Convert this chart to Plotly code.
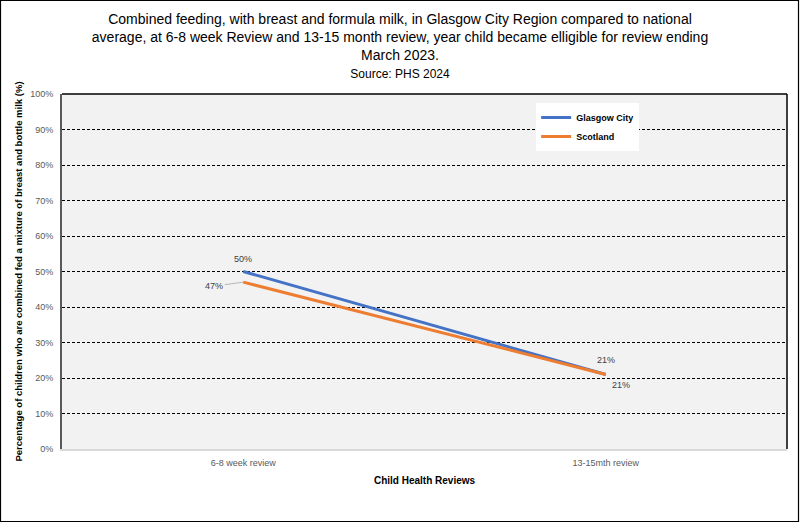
import plotly.graph_objects as go

categories = ["6-8 week review", "13-15mth review"]
glasgow = [50, 21]
scotland = [47, 21]
y_ticks = [0, 10, 20, 30, 40, 50, 60, 70, 80, 90, 100]
y_tick_labels = [f"{v}%" for v in y_ticks]

FONT = "Liberation Sans"
fig = go.Figure()
fig.add_trace(go.Scatter(x=categories, y=glasgow, mode="lines", name="Glasgow City",
                         line=dict(color="#4472C4", width=3)))
fig.add_trace(go.Scatter(x=categories, y=scotland, mode="lines", name="Scotland",
                         line=dict(color="#ED7D31", width=3)))

lab = dict(font=dict(family=FONT, size=9, color="#404040"), showarrow=False)
# Glasgow labels (above)
fig.add_annotation(x=categories[0], y=glasgow[0], text=f"{glasgow[0]}%", yshift=13, **lab)
fig.add_annotation(x=categories[1], y=glasgow[1], text=f"{glasgow[1]}%", yshift=14, xshift=0, **lab)
# Scotland labels
fig.add_annotation(x=categories[0], y=scotland[0], text=f"{scotland[0]}%", showarrow=True,
                   arrowhead=0, arrowwidth=0.8, arrowcolor="#a6a6a6", ax=-29, ay=4,
                   standoff=0, font=dict(family=FONT, size=9, color="#404040"))
fig.add_annotation(x=categories[1], y=scotland[1], text=f"{scotland[1]}%", yshift=-11, xshift=15, **lab)

fig.update_layout(
    width=800, height=523,
    paper_bgcolor="white", plot_bgcolor="#F2F2F2",
    margin=dict(l=62, r=13, t=94, b=74),
    title=dict(
        text="Combined feeding, with breast and formula milk, in Glasgow City Region compared to national<br>"
             "average, at 6-8 week Review and 13-15 month review, year child became elligible for review ending<br>"
             "March 2023.<br><span style='font-size:12px'>Source: PHS 2024</span>",
        x=0.5, xanchor="center", y=0.955, yanchor="top",
        font=dict(family=FONT, size=14, color="#000000"),
    ),
    xaxis=dict(
        type="category", range=[-0.5, 1.5], showgrid=False, automargin=False,
        showline=True, linecolor="#D9D9D9", linewidth=1.5,
        tickfont=dict(family=FONT, size=9, color="#595959"), ticklabelstandoff=4,
        ticks="", title=dict(text="<b>Child Health Reviews</b>",
                             font=dict(family=FONT, size=10, color="#000000"), standoff=10),
    ),
    yaxis=dict(
        range=[0, 100], tickvals=y_ticks, ticktext=y_tick_labels, automargin=False,
        showgrid=True, gridcolor="#000000", griddash="3px,2px", gridwidth=0.8,
        showline=True, linecolor="#595959", linewidth=2, zeroline=False,
        tickfont=dict(family=FONT, size=9, color="#595959"), ticks="", ticklabelstandoff=5,
        title=dict(text="<b>Percentage of children who are combined fed a mixture of breast and bottle milk (%)</b>",
                   font=dict(family=FONT, size=9.5, color="#000000"), standoff=6),
    ),
    legend=dict(x=0.654, y=0.975, xanchor="left", yanchor="top", bgcolor="white",
                font=dict(family=FONT, size=9, color="#000000", weight="bold"),
                itemwidth=30, tracegroupgap=0),
    showlegend=True,
)
# plot area top/right border
fig.add_shape(type="line", xref="paper", yref="paper", x0=0, x1=1, y0=1, y1=1,
              line=dict(color="black", width=1.5))
fig.add_shape(type="line", xref="paper", yref="paper", x0=1, x1=1, y0=0, y1=1,
              line=dict(color="black", width=1.5))
# outer chart border
fig.add_shape(type="rect", xref="paper", yref="paper", x0=-61.5/725, x1=1+11.5/725,
              y0=-72.5/355, y1=1+93.5/355, line=dict(color="black", width=1.2))

fig.write_html("out.html", config={"displayModeBar": False},
               post_script="document.body.style.margin='0';document.body.style.padding='0';")
